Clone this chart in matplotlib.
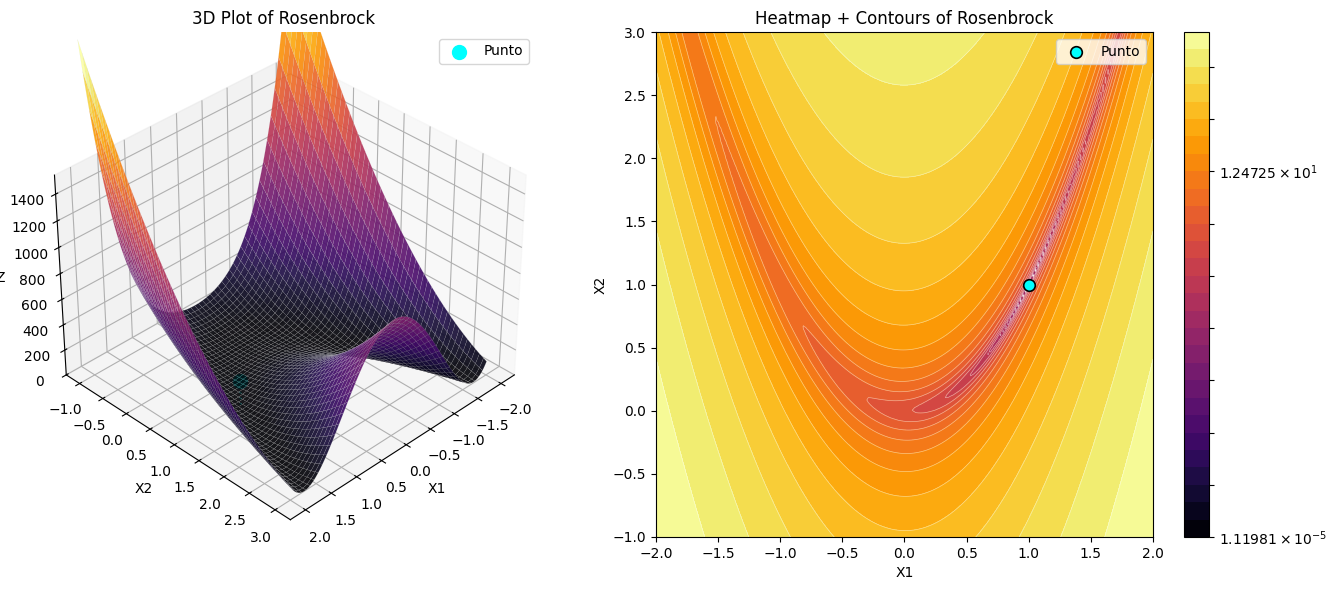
import numpy as np
import matplotlib
matplotlib.use('Agg')
import matplotlib.pyplot as plt
from matplotlib.colors import LogNorm

# values
x1_range = [-2.0, 2.0]
x2_range = [-1.0, 3.0]
grid_size = 200
z_floor = 1.11981e-5
z_top = 1540
n_levels = 30
punto = [1.0, 1.0, 0.0]
punto_stem = [0.0, 190.0]


def rosenbrock(x1, x2):
	return (1 - x1) ** 2 + 100 * (x2 - x1 ** 2) ** 2


x1 = np.linspace(x1_range[0], x1_range[1], grid_size)
x2 = np.linspace(x2_range[0], x2_range[1], grid_size)
X1, X2 = np.meshgrid(x1, x2)
Z = rosenbrock(X1, X2)
levels = np.logspace(np.log10(z_floor), np.log10(Z.max()), n_levels)

fig = plt.figure(figsize=(13.36, 5.9), dpi=100)

# left: surface
ax1 = fig.add_axes([30.5 / 1336, 0.09, 506 / 1336, 0.856], projection='3d')
ax1.scatter([punto[0]], [punto[1]], [punto_stem[1]], color='cyan', s=100, label='Punto', depthshade=False, zorder=1)
ax1.plot([punto[0], punto[0]], [punto[1], punto[1]], punto_stem, color='cyan', linestyle=':', linewidth=1.5, zorder=1)
ax1.plot_surface(X1, X2, Z, cmap='inferno', edgecolor='#d0d0d0', linewidth=0.07, alpha=0.9, zorder=2)
ax1.set_zlim(0, z_top)
ax1.view_init(elev=35, azim=45)
ax1.set_xlabel('X1')
ax1.set_ylabel('X2')
ax1.set_zlabel('Z')
ax1.set_title('3D Plot of Rosenbrock')
ax1.legend(loc='upper right')

# right: heatmap + contours
ax2 = fig.add_axes([656 / 1336, 1 - 537 / 590, 497 / 1336, 505 / 590])
cf = ax2.contourf(X1, X2, Z, levels=levels, cmap='inferno', norm=LogNorm())
ax2.contour(X1, X2, Z, levels=levels, colors='white', linewidths=0.5, alpha=0.5)
ax2.scatter([punto[0]], [punto[1]], color='cyan', edgecolor='black', s=70, linewidth=1.2, label='Punto', zorder=5)
ax2.set_xlabel('X1')
ax2.set_ylabel('X2')
ax2.set_title('Heatmap + Contours of Rosenbrock')
ax2.legend(loc='upper right')

cax = fig.add_axes([1184 / 1336, 1 - 537 / 590, 25 / 1336, 505 / 590])
fig.colorbar(cf, cax=cax)

plt.savefig('out.png', dpi=100)
